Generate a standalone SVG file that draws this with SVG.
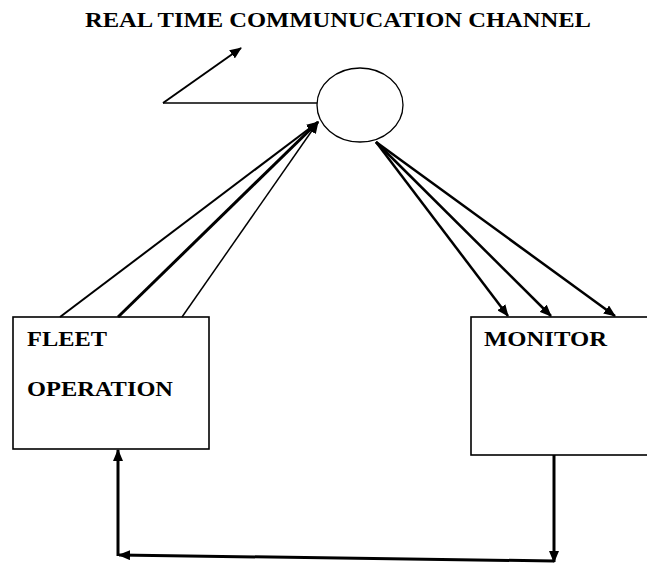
<svg xmlns="http://www.w3.org/2000/svg" width="647" height="567" viewBox="0 0 647 567">
<style>
.lbl{font-family:"Liberation Serif","Times New Roman",serif;font-weight:bold;fill:#000;}
.box{fill:#fff;stroke:#000;stroke-width:1.6;}
.ln{fill:none;stroke:#000;}
</style>
<defs>
<marker id="ah" markerUnits="userSpaceOnUse" markerWidth="12" markerHeight="10" viewBox="0 0 12 10" refX="11" refY="5" orient="auto">
<path d="M0,0 L12,5 L0,10 Z" fill="#000"/>
</marker>
</defs>
<rect width="647" height="567" fill="#fff"/>
<text class="lbl" x="85" y="27" font-size="21" textLength="506" lengthAdjust="spacingAndGlyphs">REAL TIME COMMUNUCATION CHANNEL</text>
<g id="channel">
<ellipse cx="360" cy="105" rx="43" ry="37" fill="#fff" stroke="#000" stroke-width="1.3"/>
</g>
<g id="fleet">
<rect class="box" x="13" y="317" width="196" height="132"/>
<text class="lbl" x="27" y="346" font-size="21" textLength="80" lengthAdjust="spacingAndGlyphs">FLEET</text>
<text class="lbl" x="27" y="396" font-size="21" textLength="146" lengthAdjust="spacingAndGlyphs">OPERATION</text>
</g>
<g id="monitor">
<rect class="box" x="471" y="317" width="190" height="138"/>
<text class="lbl" x="484" y="346" font-size="21" textLength="123" lengthAdjust="spacingAndGlyphs">MONITOR</text>
</g>
<g id="connectors">
<path class="ln" stroke-width="2" d="M163,103 L241,48" marker-end="url(#ah)"/>
<path class="ln" stroke-width="1.5" d="M163,103 L317,103"/>
<path class="ln" stroke-width="2" d="M60,317 L318,122" marker-end="url(#ah)"/>
<path class="ln" stroke-width="3" d="M118,317 L318,122" marker-end="url(#ah)"/>
<path class="ln" stroke-width="1.5" d="M182,317 L318,122" marker-end="url(#ah)"/>
<path class="ln" stroke-width="2.5" d="M376,142 L508,316" marker-end="url(#ah)"/>
<path class="ln" stroke-width="2.5" d="M376,142 L551,316" marker-end="url(#ah)"/>
<path class="ln" stroke-width="2.5" d="M376,142 L615,316" marker-end="url(#ah)"/>
<path class="ln" stroke-width="3" d="M554,455 L554,562" marker-end="url(#ah)"/>
<path class="ln" stroke-width="3" d="M554,561 L119,555" marker-end="url(#ah)"/>
<path class="ln" stroke-width="3" d="M118,556 L118,450" marker-end="url(#ah)"/>
</g>
</svg>
